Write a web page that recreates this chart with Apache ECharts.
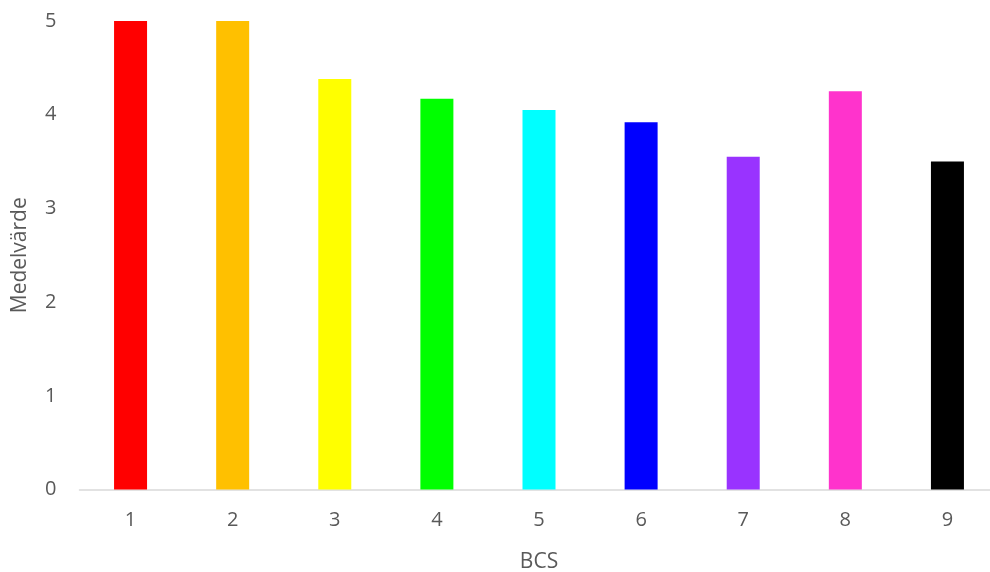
<!DOCTYPE html>
<html>
<head>
<meta charset="utf-8">
<script src="https://cdn.jsdelivr.net/npm/echarts@6/dist/echarts.min.js"></script>
<style>
  html, body { margin: 0; padding: 0; background: #ffffff; }
  #chart { width: 990px; height: 572px; }
</style>
</head>
<body>
<div id="chart"></div>
<script>
// BCS categories and mean values per category
const categories = ['1', '2', '3', '4', '5', '6', '7', '8', '9'];
const meanValues = [5.0, 5.0, 4.38, 4.17, 4.05, 3.92, 3.55, 4.25, 3.50];
const barColors = ['#FF0000', '#FFC000', '#FFFF00', '#00FF00', '#00FFFF', '#0000FF', '#9933FF', '#FF33CC', '#000000'];

const textColor = '#595959';
const fontFamily = '"Open Sans", sans-serif';

const chart = echarts.init(document.getElementById('chart'), null, { renderer: 'canvas' });

chart.setOption({
  animation: false,
  backgroundColor: '#ffffff',
  // plot area runs slightly past the right edge of the canvas
  grid: { left: 79.5, width: 919, top: 21, bottom: 82.5, containLabel: false, outerBoundsMode: 'none' },
  xAxis: {
    type: 'category',
    data: categories,
    name: 'BCS',
    nameLocation: 'middle',
    nameGap: 62,
    nameTextStyle: { color: textColor, fontSize: 21, fontFamily: fontFamily },
    axisLine: { show: true, lineStyle: { color: '#D9D9D9', width: 1.5 } },
    axisTick: { show: false },
    axisLabel: { color: textColor, fontSize: 20, fontFamily: fontFamily, margin: 21 }
  },
  yAxis: {
    type: 'value',
    min: 0,
    max: 5,
    interval: 1,
    name: 'Medelvärde',
    nameLocation: 'middle',
    nameGap: 49,
    nameTextStyle: { color: textColor, fontSize: 21, fontFamily: fontFamily },
    axisLine: { show: false },
    axisTick: { show: false },
    splitLine: { show: false },
    axisLabel: { color: textColor, fontSize: 20, fontFamily: fontFamily, margin: 23 }
  },
  series: [{
    type: 'bar',
    data: meanValues.map((v, i) => ({ value: v, itemStyle: { color: barColors[i] } })),
    barWidth: 33
  }]
});
</script>
</body>
</html>
